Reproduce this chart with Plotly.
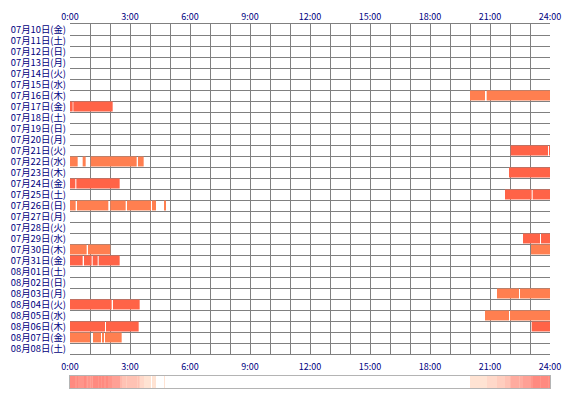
import numpy as np
import plotly.graph_objects as go

# row labels (one per day)
DAY_LABELS = [
    "07月10日(金)", "07月11日(土)", "07月12日(日)", "07月13日(月)", "07月14日(火)",
    "07月15日(水)", "07月16日(木)", "07月17日(金)", "07月18日(土)", "07月19日(日)",
    "07月20日(月)", "07月21日(火)", "07月22日(水)", "07月23日(木)", "07月24日(金)",
    "07月25日(土)", "07月26日(日)", "07月27日(月)", "07月28日(火)", "07月29日(水)",
    "07月30日(木)", "07月31日(金)", "08月01日(土)", "08月02日(日)", "08月03日(月)",
    "08月04日(火)", "08月05日(水)", "08月06日(木)", "08月07日(金)", "08月08日(土)",
]
HOUR_TICKS = [0, 3, 6, 9, 12, 15, 18, 21, 24]
HOUR_LABELS = ["0:00", "3:00", "6:00", "9:00", "12:00", "15:00", "18:00", "21:00", "24:00"]

# segments: day label, start / end in minutes from 0:00, kind
SEG_DAY = [
    "07月16日(木)", "07月16日(木)",
    "07月17日(金)", "07月17日(金)",
    "07月21日(火)", "07月21日(火)",
    "07月22日(水)", "07月22日(水)", "07月22日(水)", "07月22日(水)",
    "07月23日(木)",
    "07月24日(金)", "07月24日(金)",
    "07月25日(土)", "07月25日(土)",
    "07月26日(日)", "07月26日(日)", "07月26日(日)", "07月26日(日)", "07月26日(日)", "07月26日(日)",
    "07月29日(水)", "07月29日(水)",
    "07月30日(木)", "07月30日(木)", "07月30日(木)",
    "07月31日(金)", "07月31日(金)", "07月31日(金)", "07月31日(金)",
    "08月03日(月)", "08月03日(月)",
    "08月04日(火)", "08月04日(火)",
    "08月05日(水)", "08月05日(水)",
    "08月06日(木)", "08月06日(木)", "08月06日(木)",
    "08月07日(金)", "08月07日(金)", "08月07日(金)", "08月07日(金)",
]
SEG_START = [
    1200, 1250,
    0, 10,
    1322, 1437,
    0, 38, 62, 204,
    1317,
    0, 19,
    1305, 1388,
    0, 21, 121, 171, 246, 283,
    1359, 1413,
    0, 54, 1383,
    0, 42, 68, 86,
    1281, 1350,
    0, 129,
    1245, 1320,
    0, 108, 1385,
    0, 69, 96, 105,
]
SEG_END = [
    1245, 1440,
    8, 128,
    1434, 1440,
    23, 47, 200, 221,
    1440,
    16, 149,
    1385, 1440,
    17, 115, 167, 243, 258, 286,
    1410, 1440,
    50, 121, 1440,
    38, 65, 83, 149,
    1347, 1440,
    125, 209,
    1317, 1440,
    105, 206, 1440,
    60, 93, 102, 155,
]
SEG_KIND = [
    "B", "B",
    "A", "A",
    "A", "A",
    "B", "B", "B", "B",
    "A",
    "A", "A",
    "A", "A",
    "B", "B", "B", "B", "B", "B",
    "A", "A",
    "B", "B", "B",
    "A", "A", "A", "A",
    "B", "B",
    "A", "A",
    "B", "B",
    "A", "A", "A",
    "B", "B", "B", "B",
]

KIND_COLORS = {"A": "#FF6347", "B": "#FF7F50"}
NAVY = "#000080"
GRID = "#808080"
FONT = "Noto Sans CJK JP"

n_rows = len(DAY_LABELS)
row_of = {d: i for i, d in enumerate(DAY_LABELS)}

fig = go.Figure()

for kind, color in KIND_COLORS.items():
    idx = [i for i, k in enumerate(SEG_KIND) if k == kind]
    fig.add_trace(go.Bar(
        orientation="h",
        y=[row_of[SEG_DAY[i]] + 0.5 for i in idx],
        base=[SEG_START[i] / 60 for i in idx],
        x=[(SEG_END[i] - SEG_START[i]) / 60 for i in idx],
        width=0.9,
        marker=dict(color=color, line=dict(width=0)),
        showlegend=False, hoverinfo="skip",
    ))

# summary strip: how many days are occupied at each minute
counts = np.zeros(1440)
for s, e in zip(SEG_START, SEG_END):
    counts[s:e] += 1
minutes = (np.arange(1440) + 0.5) / 60
cmax = counts.max()
fig.add_trace(go.Heatmap(
    x=minutes, y=[0], z=[counts], xaxis="x2", yaxis="y2",
    zmin=0, zmax=cmax, showscale=False, hoverinfo="skip",
    colorscale=[[0, "#FFFFFF"], [0.5 / cmax, "#FFFFFF"], [1 / cmax, "#FFE3D3"], [1, "#FF8A80"]],
))

# dummy trace to make the top axis render
fig.add_trace(go.Scatter(x=[0], y=[0], xaxis="x3", yaxis="y", mode="markers",
                         marker=dict(opacity=0), showlegend=False, hoverinfo="skip"))

xfont = dict(family=FONT, size=9, color=NAVY)
yfont = dict(family=FONT, size=9.4, color=NAVY)
top = 34 / 364

# the page body adds an 8px margin, so the figure is 8px smaller
fig.update_layout(
    width=562, height=392,
    margin=dict(l=62, r=20, t=16, b=12, autoexpand=False),
    paper_bgcolor="#FFFFFF", plot_bgcolor="#FFFFFF",
    barmode="overlay", showlegend=False,
    xaxis=dict(range=[0, 24], tickvals=HOUR_TICKS, ticktext=HOUR_LABELS,
               tickfont=xfont, ticks="", showgrid=True, gridcolor=GRID, gridwidth=1,
               minor=dict(dtick=1, tick0=0, showgrid=True, gridcolor=GRID, gridwidth=1),
               showline=True, linecolor=GRID, linewidth=1, mirror=True,
               zeroline=False, anchor="y", ticklabelstandoff=4,
               automargin=False, fixedrange=True),
    xaxis3=dict(range=[0, 24], tickvals=HOUR_TICKS, ticktext=HOUR_LABELS,
                tickfont=xfont, ticks="", showgrid=False, zeroline=False,
                overlaying="x", side="top", anchor="y", ticklabelstandoff=1,
                automargin=False, fixedrange=True),
    yaxis=dict(range=[n_rows, 0], domain=[top, 1],
               tickvals=[i + 0.5 for i in range(n_rows)], ticktext=DAY_LABELS,
               tickfont=yfont, ticks="", showgrid=False, zeroline=False,
               minor=dict(dtick=1, tick0=0, showgrid=True, gridcolor=GRID, gridwidth=1),
               ticklabelstandoff=3, automargin=False, fixedrange=True),
    xaxis2=dict(range=[0, 24], showticklabels=False, showgrid=False, zeroline=False,
                showline=True, linecolor="#B4B4B4", linewidth=1, mirror=True,
                anchor="y2", automargin=False, fixedrange=True),
    yaxis2=dict(domain=[0, 12 / 364], showticklabels=False, showgrid=False, zeroline=False,
                showline=True, linecolor="#B4B4B4", linewidth=1, mirror=True,
                anchor="x2", automargin=False, fixedrange=True),
)

fig.write_html("out.html")
